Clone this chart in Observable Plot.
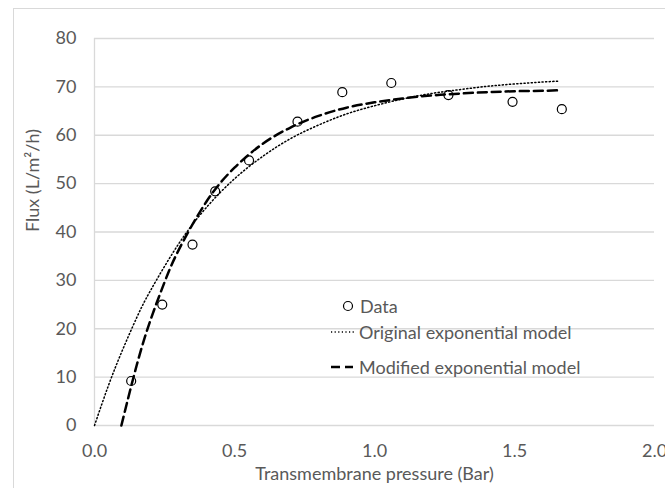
<!DOCTYPE html>
<html><head><meta charset="utf-8">
<script src="https://cdn.jsdelivr.net/npm/d3@7"></script>
<script src="https://cdn.jsdelivr.net/npm/@observablehq/plot@0.6"></script>
<style>
html,body{margin:0;padding:0;background:#fff;overflow:hidden;width:665px;height:488px;}
#wrap{position:relative;width:665px;height:488px;font-family:Lato,sans-serif;color:#595959;overflow:hidden;}
#frame{position:absolute;left:13px;top:8px;width:700px;height:600px;border:1px solid #d9d9d9;box-sizing:border-box;}
#chart{position:absolute;left:0;top:0;}
.lt{position:absolute;font-size:18px;color:#595959;white-space:nowrap;height:20px;line-height:20px;}
.ls{position:absolute;overflow:visible;}
</style></head><body>
<div id="wrap"><div id="frame"></div><div id="chart"></div><div id="legend"></div></div>
<script>
// Measured data
const pressure = [0.131, 0.242, 0.350, 0.431, 0.552, 0.725, 0.885, 1.060, 1.264, 1.493, 1.669];
const flux     = [9.2, 25.0, 37.4, 48.4, 54.8, 62.8, 68.9, 70.8, 68.3, 66.9, 65.4];

// Original exponential model curve
const origX = [0, 0.05, 0.1, 0.15, 0.2, 0.3, 0.4, 0.5, 0.6, 0.7, 0.8, 0.9, 1.0, 1.1, 1.2, 1.3, 1.4, 1.5, 1.6, 1.66];
const origY = [0, 8.3, 15.6, 22.2, 27.9, 37.5, 45.1, 51.0, 55.6, 59.3, 62.1, 64.4, 66.1, 67.5, 68.6, 69.4, 70.1, 70.6, 71.0, 71.2];

// Modified exponential model curve
const modX = [0.096, 0.15, 0.2, 0.25, 0.3, 0.4, 0.5, 0.6, 0.7, 0.8, 0.9, 1.0, 1.1, 1.2, 1.3, 1.4, 1.5, 1.6, 1.66];
const modY = [0, 12.3, 21.8, 29.6, 36.2, 46.3, 53.3, 58.2, 61.6, 64.0, 65.7, 66.8, 67.6, 68.2, 68.6, 68.9, 69.1, 69.2, 69.3];

const xTicks = [0, 0.5, 1.0, 1.5, 2.0];
const yTicks = [0, 10, 20, 30, 40, 50, 60, 70, 80];
const xTitle = "Transmembrane pressure (Bar)";
const yTitle = "Flux (L/m²/h)";
const seriesNames = ["Data", "Original exponential model", "Modified exponential model"];

const data = pressure.map((p, i) => ({x: p, y: flux[i]}));
const orig = origX.map((x, i) => ({x, y: origY[i]}));
const mod = modX.map((x, i) => ({x, y: modY[i]}));

const chart = Plot.plot({
  width: 665, height: 488,
  marginLeft: 94, marginRight: 11, marginTop: 38, marginBottom: 63,
  style: {fontFamily: "Lato, sans-serif", fontSize: "18px", color: "#595959", background: "transparent", overflow: "visible"},
  x: {domain: [0, 2]},
  y: {domain: [0, 80]},
  marks: [
    Plot.gridY(yTicks, {stroke: "#d9d9d9", strokeOpacity: 1, strokeWidth: 1.3}),
    Plot.ruleX([0], {stroke: "#d9d9d9", strokeWidth: 1.3}),
    Plot.axisY(yTicks, {tickSize: 0, tickPadding: 18, label: null, tickFormat: d => String(d)}),
    Plot.axisX(xTicks, {tickSize: 0, tickPadding: 19, label: null, tickFormat: d => d.toFixed(1)}),
    Plot.text([xTitle], {text: d => d, frameAnchor: "bottom", dy: 54, fill: "#595959", fontSize: 18}),
    Plot.text([yTitle], {text: d => d, frameAnchor: "left", dx: -61, rotate: -90, fill: "#595959", fontSize: 18}),
    Plot.line(orig, {x: "x", y: "y", curve: "natural", stroke: "#000", strokeWidth: 1.5, strokeDasharray: "1.2,2.4"}),
    Plot.line(mod, {x: "x", y: "y", curve: "natural", stroke: "#000", strokeWidth: 2.5, strokeDasharray: "9,5"}),
    Plot.dot(data, {x: "x", y: "y", r: 4.5, stroke: "#000", strokeWidth: 1.2, fill: "none"})
  ]
});
document.getElementById("chart").appendChild(chart);

// Legend
const leg = document.getElementById("legend");
leg.innerHTML = `
<svg class="ls" style="left:338px;top:296px" width="20" height="20"><circle cx="10" cy="10" r="4.5" fill="none" stroke="#000" stroke-width="1.2"/></svg>
<div class="lt" style="left:360px;top:296px">${seriesNames[0]}</div>
<svg class="ls" style="left:329px;top:322px" width="28" height="20"><line x1="2" x2="25" y1="10" y2="10" stroke="#000" stroke-width="1.5" stroke-dasharray="1.2,2.4"/></svg>
<div class="lt" style="left:359px;top:322px">${seriesNames[1]}</div>
<svg class="ls" style="left:329px;top:357px" width="28" height="20"><line x1="2" x2="24" y1="10" y2="10" stroke="#000" stroke-width="2.5" stroke-dasharray="9,5"/></svg>
<div class="lt" style="left:359px;top:357px">${seriesNames[2]}</div>`;
</script>
</body></html>
